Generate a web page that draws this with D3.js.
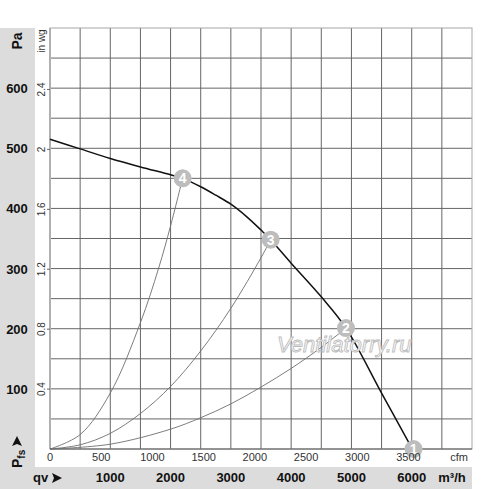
<!DOCTYPE html>
<html>
<head>
<meta charset="utf-8">
<script src="https://cdn.jsdelivr.net/npm/d3@7"></script>
<style>
  body { margin: 0; background: #fff; }
  text { font-family: "Liberation Sans", Arial, sans-serif; }
</style>
</head>
<body>
<svg id="chart"></svg>
<script>
// data (flow in m³/h, pressure in Pa)
let mainQ = [0, 500, 1000, 1500, 2000, 2200, 2500, 2750, 3000, 3265, 3500, 3660, 4000, 4500, 4910, 5500, 5950, 6010];
let mainP = [515, 499, 483, 469, 456, 450, 436, 422, 407, 386, 364, 348, 309, 253, 201, 93, 11, 0];

let sys4Q = [0, 500, 1000, 1500, 1800, 2000, 2200];
let sys4P = [0, 24, 93, 210, 300, 371, 450];
let sys3Q = [0, 500, 1000, 1500, 2000, 2500, 3000, 3500, 3660];
let sys3P = [0, 7, 26, 59, 104, 163, 234, 318, 348];
let sys2Q = [0, 1000, 2000, 2500, 3000, 3500, 4000, 4500, 4910];
let sys2P = [0, 8, 33, 52, 75, 103, 134, 169, 201];

let pointNames = ["1", "2", "3", "4"];
let pointQ = [6030, 4910, 3660, 2200];
let pointP = [0, 201, 348, 450];

let qLabels = [1000, 2000, 3000, 4000, 5000, 6000];
let cfmLabels = [0, 500, 1000, 1500, 2000, 2500, 3000, 3500];
let paLabels = [100, 200, 300, 400, 500, 600];
let inwgLabels = [0.4, 0.8, 1.2, 1.6, 2, 2.4];

const CFM = 1.699, INWG = 249.09;

let svgWidth = 500, svgHeight = 489;
let margin = {top: 28, left: 50, right: 28, bottom: 40};
let x = d3.scaleLinear().domain([0, 7000]).range([margin.left, svgWidth - margin.right]);
let y = d3.scaleLinear().domain([0, 700]).range([svgHeight - margin.bottom, margin.top]);

let svg = d3.select("#chart")
    .attr("width", svgWidth)
    .attr("height", svgHeight);

// grey label panels
svg.append("rect")
    .attr("x", 0).attr("y", margin.top)
    .attr("width", 35).attr("height", svgHeight - margin.top)
    .attr("fill", "#dcdcdc");
svg.append("rect")
    .attr("x", 0).attr("y", 467)
    .attr("width", x(7000)).attr("height", svgHeight - 467)
    .attr("fill", "#dcdcdc");

// grid
let grid = svg.append("g");
grid.selectAll(".vg")
    .data(d3.range(500, 7000, 500))
    .enter().append("line")
    .attr("x1", d => x(d)).attr("x2", d => x(d))
    .attr("y1", y(0)).attr("y2", y(700))
    .attr("stroke", "#666").attr("stroke-width", 1);
grid.selectAll(".hg")
    .data(d3.range(50, 700, 50))
    .enter().append("line")
    .attr("x1", x(0)).attr("x2", x(7000))
    .attr("y1", d => y(d)).attr("y2", d => y(d))
    .attr("stroke", "#666").attr("stroke-width", 1);

// frame
svg.append("rect")
    .attr("x", x(0)).attr("y", y(700))
    .attr("width", x(7000) - x(0)).attr("height", y(0) - y(700))
    .attr("fill", "none").attr("stroke", "#a8a8a8").attr("stroke-width", 1);
svg.append("line")
    .attr("x1", x(0)).attr("x2", x(0)).attr("y1", y(0)).attr("y2", y(700))
    .attr("stroke", "#b0b0b0").attr("stroke-width", 2);
svg.append("line")
    .attr("x1", x(0)).attr("x2", x(7000)).attr("y1", y(0)).attr("y2", y(0))
    .attr("stroke", "#555").attr("stroke-width", 1);

// curves
let line = d3.line()
    .x(d => x(d[0]))
    .y(d => y(d[1]))
    .curve(d3.curveCatmullRom.alpha(0.5));

[[sys4Q, sys4P], [sys3Q, sys3P], [sys2Q, sys2P]].forEach(function(s) {
    svg.append("path")
        .datum(d3.zip(s[0], s[1]))
        .attr("d", line)
        .attr("fill", "none")
        .attr("stroke", "#6e6e6e")
        .attr("stroke-width", 0.9);
});

svg.append("path")
    .datum(d3.zip(mainQ, mainP))
    .attr("d", line)
    .attr("fill", "none")
    .attr("stroke", "#111")
    .attr("stroke-width", 1.5);

// watermark
svg.append("text")
    .attr("x", 277).attr("y", 352)
    .attr("font-size", "22px")
    .attr("font-style", "italic")
    .attr("fill", "#fff")
    .attr("stroke", "#bdbdbd")
    .attr("stroke-width", 0.9)
    .text("Ventilatorry.ru");

// operating points
let pts = svg.selectAll(".pt")
    .data(pointNames)
    .enter().append("g")
    .attr("transform", (d, i) => "translate(" + x(pointQ[i]) + "," + y(pointP[i]) + ")");
pts.append("circle")
    .attr("r", 9)
    .attr("fill", "#bdbdbd");
pts.append("text")
    .attr("text-anchor", "middle")
    .attr("y", 5)
    .attr("font-size", "14px")
    .attr("font-weight", "bold")
    .attr("fill", "#fff")
    .text(d => d);

// Pa labels
svg.append("g").selectAll("text")
    .data(paLabels)
    .enter().append("text")
    .attr("x", 17).attr("y", d => y(d) + 5)
    .attr("text-anchor", "middle")
    .attr("font-size", "13px")
    .attr("font-weight", "bold")
    .attr("fill", "#111")
    .text(d => d);

// in wg labels and ticks
let wg = svg.append("g").selectAll("g")
    .data(inwgLabels)
    .enter().append("g")
    .attr("transform", d => "translate(0," + y(d * INWG) + ")");
wg.append("line")
    .attr("x1", x(0) - 3).attr("x2", x(0))
    .attr("stroke", "#666");
wg.append("text")
    .attr("transform", "translate(45,0) rotate(-90)")
    .attr("text-anchor", "middle")
    .attr("font-size", "10px")
    .attr("fill", "#333")
    .text(d => d);

svg.append("text")
    .attr("transform", "translate(45,41) rotate(-90)")
    .attr("text-anchor", "middle")
    .attr("font-size", "10px")
    .attr("fill", "#333")
    .text("in wg");

svg.append("text")
    .attr("transform", "translate(22,41) rotate(-90)")
    .attr("text-anchor", "middle")
    .attr("font-size", "14px")
    .attr("font-weight", "bold")
    .attr("fill", "#111")
    .text("Pa");

// Pfs label with arrow
let pfs = svg.append("text")
    .attr("transform", "translate(22,468) rotate(-90)")
    .attr("font-size", "14px")
    .attr("font-weight", "bold")
    .attr("fill", "#111");
pfs.append("tspan").text("P");
pfs.append("tspan").attr("font-size", "10px").attr("dy", 3).text("fs");
svg.append("path")
    .attr("d", "M12,-5 L17,-15 L22,-5 L17,-7 Z")
    .attr("transform", "translate(0,451)")
    .attr("fill", "#111");

// cfm labels
svg.append("g").selectAll("text")
    .data(cfmLabels)
    .enter().append("text")
    .attr("x", d => x(d * CFM)).attr("y", 461)
    .attr("text-anchor", "middle")
    .attr("font-size", "11px")
    .attr("fill", "#333")
    .text(d => d);
svg.append("text")
    .attr("x", 459).attr("y", 461)
    .attr("text-anchor", "middle")
    .attr("font-size", "11px")
    .attr("fill", "#333")
    .text("cfm");

// m³/h labels
svg.append("g").selectAll("text")
    .data(qLabels)
    .enter().append("text")
    .attr("x", d => x(d)).attr("y", 482)
    .attr("text-anchor", "middle")
    .attr("font-size", "13px")
    .attr("font-weight", "bold")
    .attr("fill", "#111")
    .text(d => d);
svg.append("text")
    .attr("x", 452).attr("y", 482)
    .attr("text-anchor", "middle")
    .attr("font-size", "13px")
    .attr("font-weight", "bold")
    .attr("fill", "#111")
    .text("m³/h");

// qv label with arrow
svg.append("text")
    .attr("x", 33).attr("y", 482)
    .attr("font-size", "13px")
    .attr("font-weight", "bold")
    .attr("fill", "#111")
    .text("qv");
svg.append("path")
    .attr("d", "M52,473 L62,478 L52,483 L54,478 Z")
    .attr("fill", "#111");
</script>
</body>
</html>
